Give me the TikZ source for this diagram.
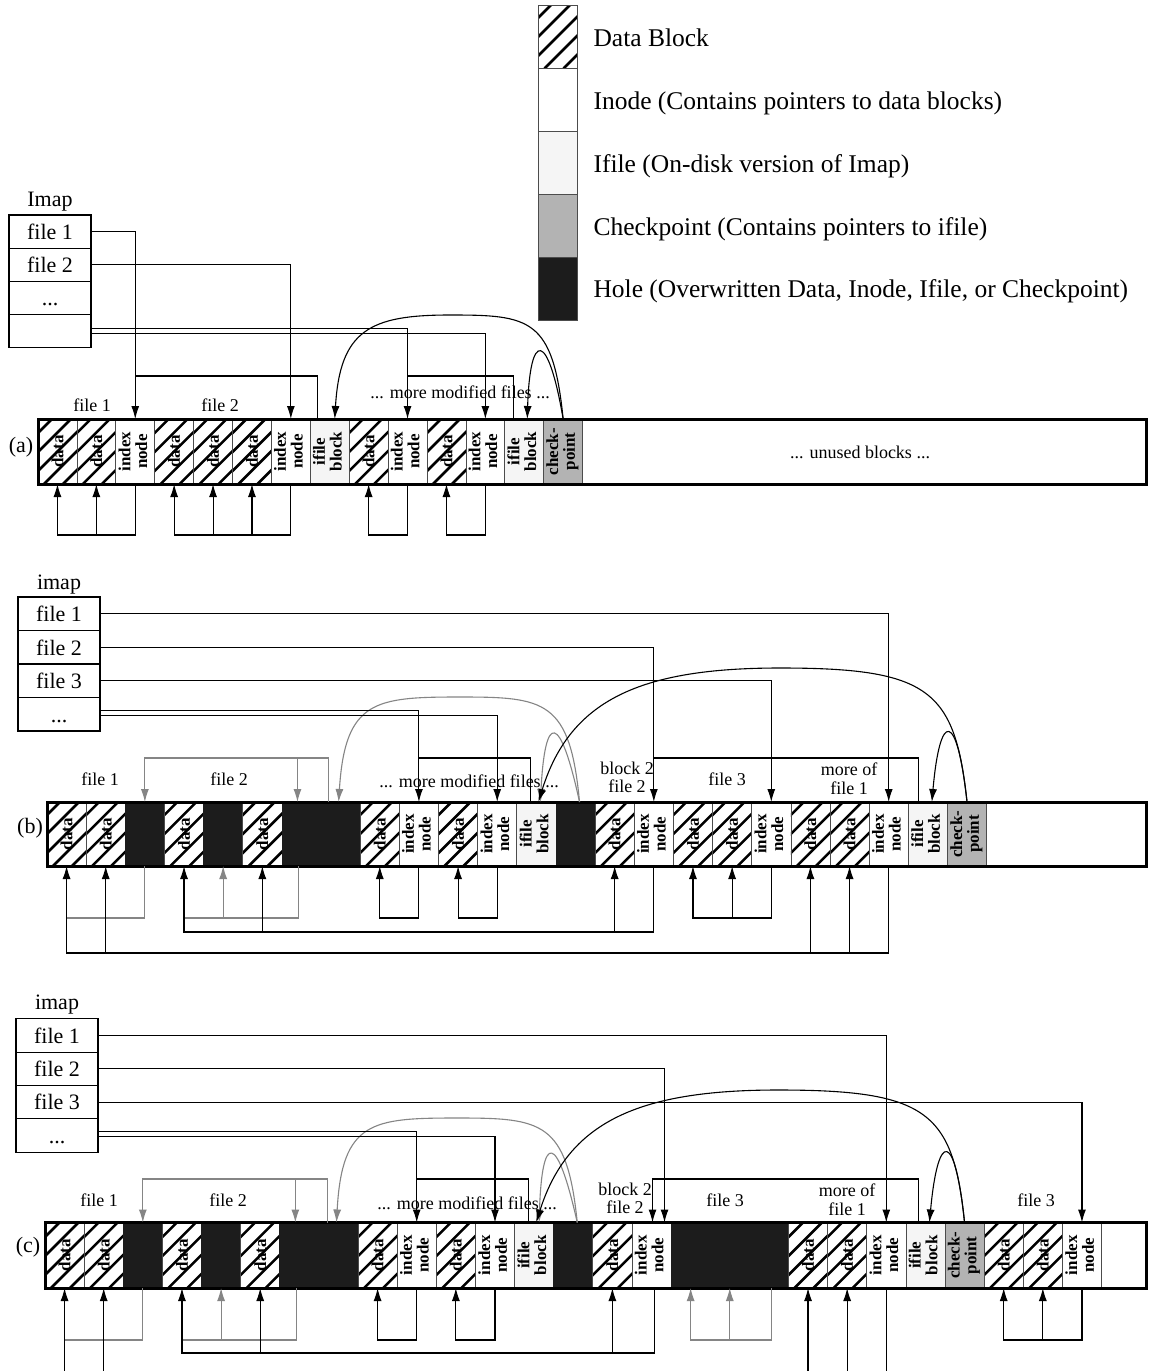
\documentclass[tikz,border=0pt]{standalone}
\usepackage{fontspec}
\setmainfont{Liberation Serif}
\usetikzlibrary{arrows.meta}
\definecolor{ifilecol}{HTML}{F5F5F5}
\definecolor{checkcol}{HTML}{B3B3B3}
\definecolor{holecol}{HTML}{1C1C1C}
\definecolor{oldcol}{HTML}{858585}
\newcommand\twoln[2]{\begin{tabular}{@{}c@{}}#1\\#2\end{tabular}}
\newcommand\drawbar[6]{%
  \foreach \btype [count=\i from 0] in {#6}{%
    \node (#1\i) at ({#2+\i*#4},#3) [blk, minimum width=#4, minimum height=#5, bt\btype];
  }%
}
\tikzset{
  hatch/.style={path picture={\foreach \k in {-3,...,1}{\draw[line width=2.5pt,black] ([xshift=\k*19pt+6pt]path picture bounding box.south west) -- ++(100pt,100pt);}}},
  blk/.style={draw=black!70, line width=0.7pt, inner sep=0pt, outer sep=0pt, anchor=north west, font=\fontsize{17}{16.5}\selectfont\bfseries},
  btD/.style={hatch, fill=white, node contents={\rotatebox{90}{data}}},
  btI/.style={fill=white, node contents={\rotatebox{90}{\twoln{index}{node}}}},
  btF/.style={fill=ifilecol, node contents={\rotatebox{90}{\twoln{ifile}{block}}}},
  btC/.style={fill=checkcol, node contents={\rotatebox{90}{\twoln{check-}{point}}}},
  btH/.style={fill=holecol, draw=holecol, node contents={}},
  barframe/.style={draw=black, line width=3pt, inner sep=0pt, outer sep=0pt, anchor=north west},
  imrow/.style={draw=black, line width=1.1pt, minimum width=82, inner sep=0pt, text height=15.5pt, text depth=0pt, font=\fontsize{22}{24}\selectfont},
  imlab/.style={anchor=base, font=\fontsize{22}{24}\selectfont},
  plab/.style={font=\fontsize{22}{24}\selectfont},
  lab/.style={anchor=base, font=\fontsize{18}{18.5}\selectfont},
  lab2/.style={align=center, font=\fontsize{18}{18.5}\selectfont},
  legbox/.style={draw=black!70, line width=1pt, minimum width=39, minimum height=63, inner sep=0pt, anchor=north west},
  legtext/.style={anchor=base west, font=\fontsize{25.5}{28}\selectfont},
  ln/.style={draw=black, line width=1.1pt, -{Latex[length=13pt,width=8pt]}},
  ln0/.style={draw=black, line width=1.1pt},
  lg/.style={draw=oldcol, line width=1.1pt, -{Latex[length=13pt,width=8pt]}},
  lg0/.style={draw=oldcol, line width=1.1pt}
}
\begin{document}
\begin{tikzpicture}[x=1pt, y=-1pt]
\useasboundingbox (0,0) rectangle (1158,1371);
\fill[white] (0,0) rectangle (1158,1371);
\clip (0,0) rectangle (1158,1371);

% ---------------- legend ----------------
\node[legbox, hatch, fill=white] (legD) at (538,5) {};
\node[legbox, fill=white] (legI) at (538,68) {};
\node[legbox, fill=ifilecol] (legF) at (538,131) {};
\node[legbox, fill=checkcol] (legC) at (538,194) {};
\node[legbox, fill=holecol] (legH) at (538,257) {};
\node[legtext] (legDt) at (590,46.7) {Data Block};
\node[legtext] (legIt) at (590,109.3) {Inode (Contains pointers to data blocks)};
\node[legtext] (legFt) at (590,172.3) {Ifile (On-disk version of Imap)};
\node[legtext] (legCt) at (590,235) {Checkpoint (Contains pointers to ifile)};
\node[legtext] (legHt) at (590,297.7) {Hole (Overwritten Data, Inode, Ifile, or Checkpoint)};

% ---------------- panel (a) ----------------
\node[imlab] (imAl) at (50,206.5) {Imap};
\node[imrow, minimum height=33.2] (imA1) at (50,231.6) {file 1};
\node[imrow, minimum height=33.2] (imA2) at (50,264.8) {file 2};
\node[imrow, minimum height=33.2] (imA3) at (50,298) {...};
\node[imrow, minimum height=33.2] (imA4) at (50,331.2) {};

\node[lab] (tA1) at (92,411) {file 1};
\node[lab] (tA2) at (220,411) {file 2};
\node[lab] (tA3) at (460,398) {... more modified files ...};
\node[plab] (pA) at (21,447) {(a)};

\drawbar{a}{38}{419}{38.9}{65}{D,D,I,D,D,D,I,F,D,I,D,I,F,C}
\node[barframe, minimum width=1108, minimum height=65] (barA) at (38,419) {};
\node[font=\fontsize{18}{18.5}\selectfont] (tA4) at (860,452) {... unused blocks ...};

\coordinate (upA) at (0,376);
\coordinate (lvA) at (0,535);
\draw[ln] (imA1.east) -| (a2.north);
\draw[ln] (imA2.east) -| (a6.north);
\draw[ln] ([yshift=3pt]imA4.east) -| (a9.north);
\draw[ln] ([yshift=-2pt]imA4.east) -| (a11.north);
\draw[ln0] ([xshift=-12pt]a7.north) |- (a2.north |- upA);
\draw[ln0] ([xshift=-11pt]a12.north) |- (a9.north |- upA);
\draw[ln] (a13.north) .. controls (553,318) and (530,315) .. (450,315)
  .. controls (370,315) and (340,330) .. ([xshift=5pt]a7.north);
\draw[ln] (a13.north) .. controls (548,330) and (530,330) .. ([xshift=3pt]a12.north);

\draw[ln] (a2.south) |- (a0.south |- lvA) -- (a0.south);
\draw[ln] (a1.south |- lvA) -- (a1.south);
\draw[ln] (a6.south) |- (a3.south |- lvA) -- (a3.south);
\draw[ln] (a4.south |- lvA) -- (a4.south);
\draw[ln] (a5.south |- lvA) -- (a5.south);
\draw[ln] (a9.south) |- (a8.south |- lvA) -- (a8.south);
\draw[ln] (a11.south) |- (a10.south |- lvA) -- (a10.south);

% ---------------- panel (b) ----------------
\node[imlab] (imBl) at (59,589) {imap};
\node[imrow, minimum height=33.5] (imB1) at (59,613.75) {file 1};
\node[imrow, minimum height=33.5] (imB2) at (59,647.25) {file 2};
\node[imrow, minimum height=33.5] (imB3) at (59,680.75) {file 3};
\node[imrow, minimum height=33.5] (imB4) at (59,714.25) {...};

\node[lab] (tB1) at (100,785) {file 1};
\node[lab] (tB2) at (229,785) {file 2};
\node[lab] (tB3) at (469,787.7) {... more modified files ...};
\node[lab2] (tB4) at (627,777.5) {block 2\\file 2};
\node[lab] (tB5) at (727,785) {file 3};
\node[lab2] (tB6) at (849,778.5) {more of\\file 1};
\node[plab] (pB) at (30,828) {(b)};

\drawbar{b}{47}{802}{39.15}{64}{D,D,H,D,H,D,H,H,D,I,D,I,F,H,D,I,D,D,I,D,D,I,F,C}
\node[barframe, minimum width=1099, minimum height=64] (barB) at (47,802) {};

\coordinate (upB) at (0,758);
\coordinate (lvB1) at (0,918);
\coordinate (lvB2) at (0,932);
\coordinate (lvB3) at (0,953);
% old (gray) pointers
\draw[lg] ([xshift=-12pt]b7.north) |- (b2.north |- upB) -- (b2.north);
\draw[lg] ([xshift=-4pt]b6.north |- upB) -- ([xshift=-4pt]b6.north);
\draw[lg] ([xshift=4pt]b13.north) .. controls (570,700) and (545,697) .. (460,697)
  .. controls (375,697) and (345,700) .. ([xshift=-2pt]b7.north);
\draw[lg] ([xshift=4pt]b13.north) .. controls (560,712) and (545,712) .. ([xshift=4pt]b12.north);
\draw[lg0] (b2.south) |- (b0.south |- lvB1);
\draw[lg0] ([xshift=-3pt]b6.south) |- (b3.south |- lvB1);
\draw[lg] (b4.south |- lvB1) -- (b4.south);
% current pointers
\draw[ln] (imB1.east) -| (b21.north);
\draw[ln] (imB2.east) -| (b15.north);
\draw[ln] (imB3.east) -| (b18.north);
\draw[ln] ([yshift=4pt]imB4.east) -| (b9.north);
\draw[ln] ([yshift=-1pt]imB4.east) -| (b11.north);
\draw[ln0] ([xshift=-6pt]b12.north) |- (b9.north |- upB);
\draw[ln0] ([xshift=-9pt]b22.north) |- (b15.north |- upB);
\draw[ln] (b23.north) .. controls (955,690) and (930,668) .. (780,668)
  .. controls (640,668) and (570,700) .. ([xshift=2pt]b12.north);
\draw[ln] (b23.north) .. controls (957,710) and (940,710) .. ([xshift=4pt]b22.north);

\draw[ln] (b15.south) |- (b3.south |- lvB2) -- (b3.south);
\draw[ln] (b5.south |- lvB2) -- (b5.south);
\draw[ln] (b14.south |- lvB2) -- (b14.south);
\draw[ln] (b18.south) |- (b16.south |- lvB1) -- (b16.south);
\draw[ln] (b17.south |- lvB1) -- (b17.south);
\draw[ln] (b21.south) |- (b0.south |- lvB3) -- (b0.south);
\draw[ln] (b1.south |- lvB3) -- (b1.south);
\draw[ln] (b19.south |- lvB3) -- (b19.south);
\draw[ln] (b20.south |- lvB3) -- (b20.south);
\draw[ln] (b9.south) |- (b8.south |- lvB1) -- (b8.south);
\draw[ln] (b11.south) |- (b10.south |- lvB1) -- (b10.south);

% ---------------- panel (c) ----------------
\node[imlab] (imCl) at (57,1009) {imap};
\node[imrow, minimum height=33.4] (imC1) at (57,1035.4) {file 1};
\node[imrow, minimum height=33.4] (imC2) at (57,1068.8) {file 2};
\node[imrow, minimum height=33.4] (imC3) at (57,1102.2) {file 3};
\node[imrow, minimum height=33.4] (imC4) at (57,1135.6) {...};

\node[lab] (tC1) at (99,1206.7) {file 1};
\node[lab] (tC2) at (228,1206.7) {file 2};
\node[lab] (tC3) at (467,1209) {... more modified files ...};
\node[lab2] (tC4) at (625,1198.5) {block 2\\file 2};
\node[lab] (tC5) at (725,1206.7) {file 3};
\node[lab2] (tC6) at (847,1199.5) {more of\\file 1};
\node[lab] (tC7) at (1036,1206.7) {file 3};
\node[plab] (pC) at (28,1247.5) {(c)};

\drawbar{c}{45}{1222.5}{39.13}{65.5}{D,D,H,D,H,D,H,H,D,I,D,I,F,H,D,I,H,H,H,D,D,I,F,C,D,D,I}
\node[barframe, minimum width=1101, minimum height=65.5] (barC) at (45,1222.5) {};

\coordinate (upC) at (0,1179);
\coordinate (lvC1) at (0,1340);
\coordinate (lvC2) at (0,1353);
\coordinate (lvC3) at (0,1390);
% old (gray) pointers
\draw[lg] ([xshift=-11pt]c7.north) |- (c2.north |- upC) -- (c2.north);
\draw[lg] ([xshift=-4pt]c6.north |- upC) -- ([xshift=-4pt]c6.north);
\draw[lg] ([xshift=4pt]c13.north) .. controls (567,1121) and (542,1118) .. (457,1118)
  .. controls (372,1118) and (342,1121) .. ([xshift=-2pt]c7.north);
\draw[lg] ([xshift=4pt]c13.north) .. controls (557,1132) and (542,1132) .. ([xshift=5pt]c12.north);
\draw[lg0] (c2.south) |- (c0.south |- lvC1);
\draw[lg0] ([xshift=-3pt]c6.south) |- (c3.south |- lvC1);
\draw[lg] (c4.south |- lvC1) -- (c4.south);
\draw[lg] ([xshift=3pt]c18.south) |- (c16.south |- lvC1) -- (c16.south);
\draw[lg] (c17.south |- lvC1) -- (c17.south);
% current pointers
\draw[ln] (imC1.east) -| (c21.north);
\draw[ln] (imC2.east) -| ([xshift=13pt]c15.north);
\draw[ln] (imC3.east) -| (c26.north);
\draw[ln] ([yshift=4pt]imC4.east) -| (c9.north);
\draw[ln] ([yshift=-1pt]imC4.east) -| (c11.north);
\draw[ln0] ([xshift=-6pt]c12.north) |- (c9.north |- upC);
\draw[ln] ([xshift=-7pt]c22.north) |- ([xshift=1pt]c15.north |- upC) -- ([xshift=1pt]c15.north);
\draw[ln] (c23.north) .. controls (953,1112) and (928,1090) .. (778,1090)
  .. controls (638,1090) and (568,1122) .. ([xshift=2pt]c12.north);
\draw[ln] (c23.north) .. controls (955,1130) and (938,1130) .. ([xshift=4pt]c22.north);

\draw[ln] ([xshift=3pt]c15.south) |- (c3.south |- lvC2) -- (c3.south);
\draw[ln] (c5.south |- lvC2) -- (c5.south);
\draw[ln] (c14.south |- lvC2) -- (c14.south);
\draw[ln] (c9.south) |- (c8.south |- lvC1) -- (c8.south);
\draw[ln] (c11.south) |- (c10.south |- lvC1) -- (c10.south);
\draw[ln] (c26.south) |- (c24.south |- lvC1) -- (c24.south);
\draw[ln] (c25.south |- lvC1) -- (c25.south);
\draw[ln] (c21.south) |- (c0.south |- lvC3) -- (c0.south);
\draw[ln] (c1.south |- lvC3) -- (c1.south);
\draw[ln] (c19.south |- lvC3) -- (c19.south);
\draw[ln] (c20.south |- lvC3) -- (c20.south);
\end{tikzpicture}
\end{document}
